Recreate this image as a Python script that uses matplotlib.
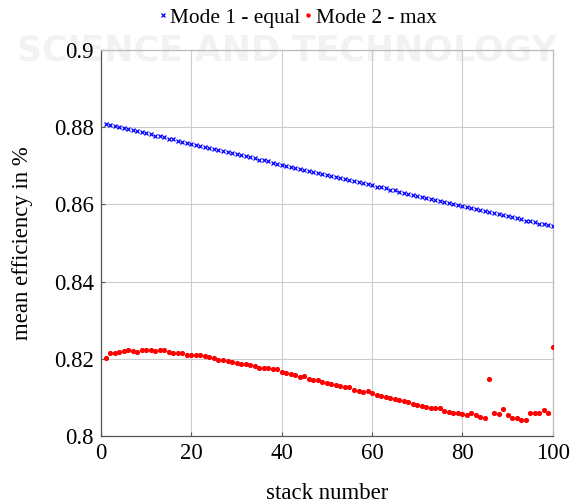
import numpy as np
import matplotlib
matplotlib.use('Agg')
import matplotlib.pyplot as plt
from matplotlib.ticker import FuncFormatter

plt.rcParams['font.family'] = ['Liberation Serif', 'DejaVu Serif']
plt.rcParams['mathtext.fontset'] = 'stix'

stack = list(range(1, 101))

# Mode 1 - equal
mode1_equal = [
    0.8808, 0.8805, 0.8803, 0.8800, 0.8797, 0.8795, 0.8792, 0.8789, 0.8786, 0.8784,
    0.8781, 0.8778, 0.8776, 0.8773, 0.8770, 0.8768, 0.8765, 0.8762, 0.8760, 0.8757,
    0.8754, 0.8751, 0.8749, 0.8746, 0.8743, 0.8741, 0.8738, 0.8735, 0.8733, 0.8730,
    0.8727, 0.8724, 0.8722, 0.8719, 0.8716, 0.8714, 0.8711, 0.8708, 0.8705, 0.8703,
    0.8700, 0.8697, 0.8695, 0.8692, 0.8689, 0.8687, 0.8684, 0.8681, 0.8678, 0.8676,
    0.8673, 0.8670, 0.8668, 0.8665, 0.8662, 0.8660, 0.8657, 0.8654, 0.8652, 0.8649,
    0.8646, 0.8644, 0.8641, 0.8638, 0.8636, 0.8633, 0.8630, 0.8628, 0.8625, 0.8622,
    0.8620, 0.8617, 0.8614, 0.8612, 0.8609, 0.8606, 0.8604, 0.8601, 0.8598, 0.8596,
    0.8593, 0.8590, 0.8588, 0.8585, 0.8582, 0.8580, 0.8577, 0.8574, 0.8572, 0.8569,
    0.8566, 0.8564, 0.8561, 0.8558, 0.8556, 0.8553, 0.8550, 0.8548, 0.8546, 0.8544,
]

# Mode 2 - max
mode2_max = [
    0.8201, 0.8214, 0.8214, 0.8217, 0.8220, 0.8224, 0.8220, 0.8219, 0.8222, 0.8222,
    0.8222, 0.8221, 0.8223, 0.8222, 0.8219, 0.8215, 0.8215, 0.8214, 0.8211, 0.8210,
    0.8210, 0.8209, 0.8207, 0.8205, 0.8203, 0.8198, 0.8196, 0.8195, 0.8192, 0.8189,
    0.8187, 0.8186, 0.8185, 0.8181, 0.8177, 0.8177, 0.8177, 0.8173, 0.8174, 0.8167,
    0.8164, 0.8161, 0.8157, 0.8154, 0.8155, 0.8147, 0.8145, 0.8144, 0.8140, 0.8137,
    0.8136, 0.8133, 0.8130, 0.8126, 0.8126, 0.8120, 0.8117, 0.8115, 0.8116, 0.8111,
    0.8107, 0.8104, 0.8102, 0.8098, 0.8096, 0.8093, 0.8091, 0.8088, 0.8084, 0.8080,
    0.8078, 0.8076, 0.8073, 0.8073, 0.8073, 0.8065, 0.8063, 0.8060, 0.8060, 0.8056,
    0.8055, 0.8060, 0.8054, 0.8050, 0.8047, 0.8148, 0.8060, 0.8057, 0.8071, 0.8054,
    0.8046, 0.8048, 0.8042, 0.8042, 0.8061, 0.8061, 0.8061, 0.8067, 0.8061, 0.8231,
]

x_ticks = [0, 20, 40, 60, 80, 100]
y_ticks = [0.8, 0.82, 0.84, 0.86, 0.88, 0.9]

fs = 16.4

fig = plt.figure(figsize=(5.71, 5.03), dpi=100)
fig.patch.set_facecolor('white')

# very faint page watermark behind everything
fig.text(0.03, 0.90, 'SCIENCE AND TECHNOLOGY', ha='left', va='center',
         fontsize=25, fontweight='heavy', color='#f2f2f2',
         family=['DejaVu Sans'], zorder=-5)

ax = fig.add_axes([0.177, 0.133, 0.791, 0.768])
ax.patch.set_alpha(0)

ax.plot(stack, mode1_equal, linestyle='none', marker='x', color='blue',
        markersize=3.2, markeredgewidth=0.9, label='Mode 1 - equal',
        zorder=3)
ax.plot(stack, mode2_max, linestyle='none', marker='o', color='red',
        markersize=2.7, label='Mode 2 - max', zorder=3)

ax.set_xlim(0, 100)
ax.set_ylim(0.8, 0.9)
ax.set_xticks(x_ticks)
ax.set_yticks(y_ticks)
ax.yaxis.set_major_formatter(FuncFormatter(lambda v, p: f'{v:g}'))
ax.grid(True, color='#cccccc', linewidth=0.8)
ax.set_axisbelow(True)
ax.tick_params(direction='in', length=3, labelsize=fs, colors='#555555',
               labelcolor='black', pad=5)
ax.spines['left'].set_color('#555555')
ax.spines['bottom'].set_color('#555555')
ax.spines['top'].set_color('#bbbbbb')
ax.spines['right'].set_color('#bbbbbb')
for s in ax.spines.values():
    s.set_linewidth(0.9)

ax.set_xlabel('stack number', fontsize=fs, labelpad=14)
ax.set_ylabel('mean efficiency in %', fontsize=fs, labelpad=15)

ax.legend(loc='center', bbox_to_anchor=(298 / 571, 1 - 18 / 503),
          bbox_transform=fig.transFigure, ncol=2, frameon=False,
          fontsize=15.4, handlelength=0.3, handletextpad=0.2,
          columnspacing=0.2, borderpad=0.1, markerscale=0.8)

fig.savefig('out.png', dpi=100)
